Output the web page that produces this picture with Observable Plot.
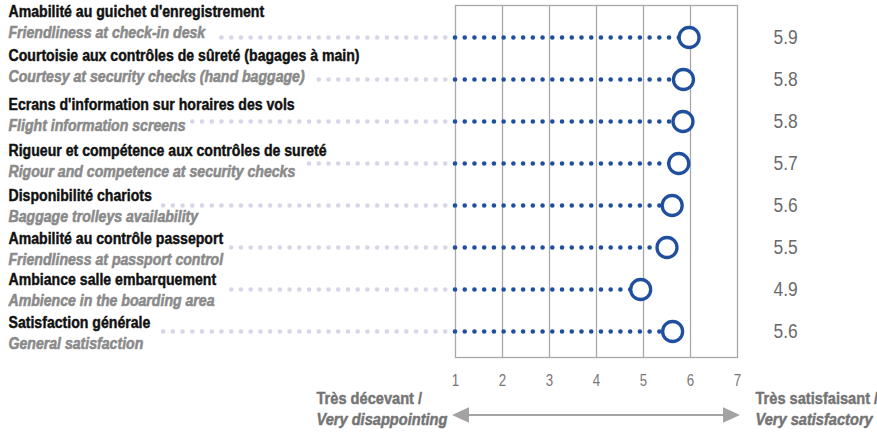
<!DOCTYPE html>
<html>
<head>
<meta charset="utf-8">
<script src="https://cdn.jsdelivr.net/npm/d3@7"></script>
<script src="https://cdn.jsdelivr.net/npm/@observablehq/plot@0.6"></script>
<style>
  html, body { margin: 0; padding: 0; background: #fff; }
</style>
</head>
<body>
<div id="chart"></div>
<script>
// ---- data ----
const labelsFr = [
  "Amabilité au guichet d'enregistrement",
  "Courtoisie aux contrôles de sûreté (bagages à main)",
  "Ecrans d'information sur horaires des vols",
  "Rigueur et compétence aux contrôles de sureté",
  "Disponibilité chariots",
  "Amabilité au contrôle passeport",
  "Ambiance salle embarquement",
  "Satisfaction générale"
];
const labelsEn = [
  "Friendliness at check-in desk",
  "Courtesy at security checks (hand baggage)",
  "Flight information screens",
  "Rigour and competence at security checks",
  "Baggage trolleys availability",
  "Friendliness at passport control",
  "Ambience in the boarding area",
  "General satisfaction"
];
const scores = [5.97, 5.85, 5.84, 5.75, 5.61, 5.50, 4.94, 5.62];
const scoreLabels = ["5.9", "5.8", "5.8", "5.7", "5.6", "5.5", "4.9", "5.6"];
const xTicks = [1, 2, 3, 4, 5, 6, 7];
const scaleLeft = ["Très décevant /", "Very disappointing"];
const scaleRight = ["Très satisfaisant /", "Very satisfactory"];

// ---- layout ----
const W = 877, H = 433;
const mL = 455, mR = 140, mT = 5, mB = 76;
const FONT = "'Liberation Sans', Arial, sans-serif";
const SX = 0.83;          // horizontal condensing of the text (narrow face)
const labelShift = [-26, -24, -17, -13, -10, -9, -10, -9]; // label block offset vs. dot line
const lineGap = 21;
const labelFs = 17;
const blue = "#1f4f9d";
const enGray = "#8a8a8a", legGray = "#747474";

const ctx = document.createElement("canvas").getContext("2d");
function textWidth(t, style) {
  ctx.font = `${style} bold ${labelFs}px ${FONT}`;
  return ctx.measureText(t).width * SX;
}
const xs = Plot.scale({x: {domain: [1, 7], range: [mL, W - mR]}});

const rows = labelsFr.map((fr, i) => {
  const off = labelShift[i];
  const useFr = Math.abs(off) < Math.abs(off + lineGap);
  const w = useFr ? textWidth(fr, "normal") : textWidth(labelsEn[i], "italic");
  return {fr, en: labelsEn[i], score: scores[i], label: scoreLabels[i], off, start: xs.invert(8 + w + 7)};
});

const arrow = (index, scales, values, dims) => {
  const g = d3.create("svg:g");
  const x1 = scales.x(1) - 3, x2 = scales.x(7) + 3;
  const y = dims.height - 18;
  const c = "#a3a3a3", hl = 17, hw = 7.8;
  g.append("line").attr("x1", x1 + hl - 2).attr("x2", x2 - hl + 2)
    .attr("y1", y).attr("y2", y).attr("stroke", c).attr("stroke-width", 2);
  g.append("path").attr("fill", c).attr("d", `M${x1},${y}L${x1 + hl},${y - hw}L${x1 + hl},${y + hw}Z`);
  g.append("path").attr("fill", c).attr("d", `M${x2},${y}L${x2 - hl},${y - hw}L${x2 - hl},${y + hw}Z`);
  return g.node();
};

const bold = (fill, sw) => ({fill, stroke: fill, strokeWidth: sw, fontWeight: "bold"});

const plot = Plot.plot({
  width: W, height: H,
  marginLeft: mL, marginRight: mR, marginTop: mT, marginBottom: mB,
  style: {fontFamily: FONT, background: "#fff", overflow: "visible"},
  x: {domain: [1, 7], axis: null},
  y: {type: "point", domain: labelsFr, padding: 0.61, insetTop: 5, axis: null},
  marks: [
    Plot.ruleX([2, 3, 4, 5, 6], {stroke: "#a8a8a8", strokeWidth: 1.3}),
    Plot.frame({stroke: "#a8a8a8", strokeWidth: 1.3}),
    Plot.axisX({ticks: xTicks, tickFormat: d => String(d), tickSize: 0, tickPadding: 17,
      fontSize: 16, color: "#777", label: null}),
    Plot.ruleY(rows, {y: "fr", x1: 1, x2: "start", stroke: "#d6d6e8", strokeWidth: 4.6,
      strokeLinecap: "round", strokeDasharray: "0 9.73"}),
    Plot.ruleY(rows, {y: "fr", x1: 1, x2: "score", stroke: blue, strokeWidth: 4.6,
      strokeLinecap: "round", strokeDasharray: "0 9.73"}),
    Plot.dot(rows, {x: "score", y: "fr", r: 10, fill: "#fff", stroke: blue, strokeWidth: 3.3}),
    Plot.text(rows, {y: "fr", text: "fr", frameAnchor: "left", dx: -(mL - 8),
      textAnchor: "start", fontSize: labelFs, ...bold("#111", 0.45)}),
    Plot.text(rows, {y: "fr", text: "en", frameAnchor: "left", dx: -(mL - 8),
      textAnchor: "start", fontSize: labelFs, fontStyle: "italic", ...bold(enGray, 0.6)}),
    Plot.text(rows, {y: "fr", text: "label", frameAnchor: "right", dx: 36,
      textAnchor: "start", fontSize: 21, fill: "#6a6a6a"}),
    Plot.text([scaleLeft[0]], {frameAnchor: "bottom-left", dx: -139, dy: 46.5, textAnchor: "start",
      fontSize: labelFs, ...bold(legGray, 0.45)}),
    Plot.text([scaleLeft[1]], {frameAnchor: "bottom-left", dx: -139, dy: 67.5, textAnchor: "start",
      fontSize: labelFs, fontStyle: "italic", ...bold(legGray, 0.5)}),
    Plot.text([scaleRight[0]], {frameAnchor: "bottom-right", dx: 18, dy: 46.5, textAnchor: "start",
      fontSize: labelFs, ...bold(legGray, 0.45)}),
    Plot.text([scaleRight[1]], {frameAnchor: "bottom-right", dx: 18, dy: 67.5, textAnchor: "start",
      fontSize: labelFs, fontStyle: "italic", ...bold(legGray, 0.5)}),
    arrow
  ]
});
document.getElementById("chart").append(plot);

// condense text horizontally (narrow face) and shift the two-line labels into their blocks
function adjust(g, sx, extraDy) {
  if (!g) return;
  g.querySelectorAll("text").forEach((t, i) => {
    const tr = t.getAttribute("transform") || "";
    const m = tr.match(/translate\(([^,\s]+)[,\s]+([^)]+)\)/);
    const dy = extraDy ? extraDy(i) : 0;
    if (m) {
      t.setAttribute("transform", tr.replace(m[0], `translate(${m[1]},${+m[2] + dy})`) + ` scale(${sx},1)`);
    } else {
      const x0 = +t.getAttribute("x") || 0, y0 = (+t.getAttribute("y") || 0) + dy;
      t.removeAttribute("x"); t.removeAttribute("y");
      t.setAttribute("transform", `translate(${x0},${y0}) ${tr} scale(${sx},1)`);
    }
  });
}
const tg = plot.querySelectorAll("g[aria-label='text']");
adjust(tg[0], SX, i => rows[i].off);
adjust(tg[1], SX, i => rows[i].off + lineGap);
adjust(tg[2], SX);
for (let k = 3; k < tg.length; k++) adjust(tg[k], 0.86);
plot.querySelectorAll("g[aria-label='x-axis tick label']").forEach(g => adjust(g, SX));
</script>
</body>
</html>
